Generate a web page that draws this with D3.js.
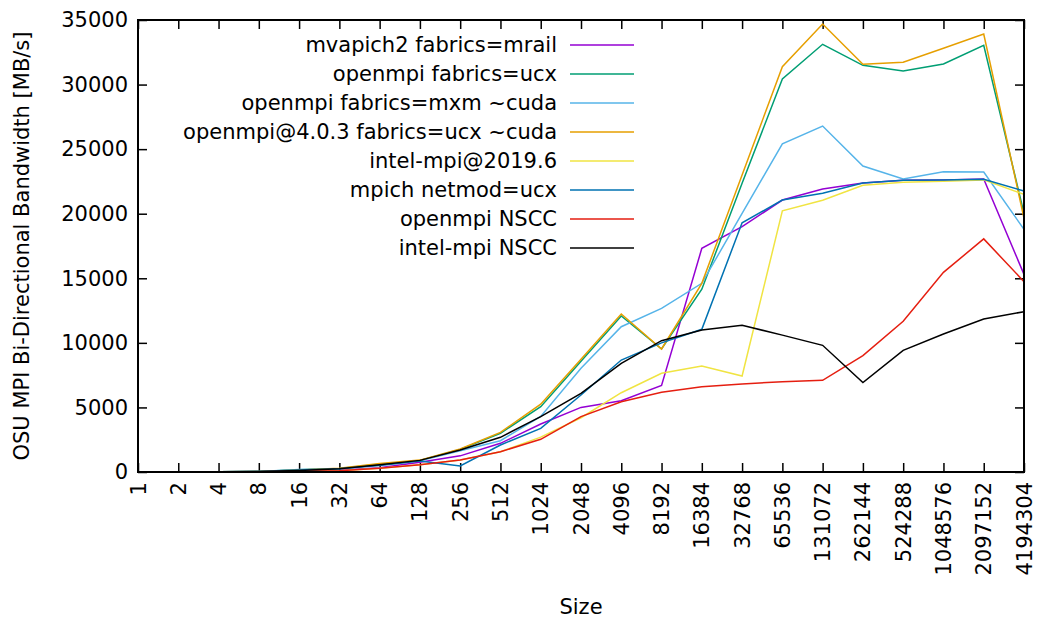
<!DOCTYPE html>
<html>
<head>
<meta charset="utf-8">
<script src="https://cdn.jsdelivr.net/npm/d3@7"></script>
<style>
  body { margin: 0; background: #fff; }
  svg text { font-family: "DejaVu Sans", Verdana, sans-serif; fill: #000; }
</style>
</head>
<body>
<div id="chart"></div>
<script>
// message sizes (x categories)
const sizes = ["1", "2", "4", "8", "16", "32", "64", "128", "256", "512", "1024", "2048", "4096",
    "8192", "16384", "32768", "65536", "131072", "262144", "524288", "1048576", "2097152", "4194304"];

const yTicks = [0, 5000, 10000, 15000, 20000, 25000, 30000, 35000];

const seriesNames = ["mvapich2 fabrics=mrail", "openmpi fabrics=ucx", "openmpi fabrics=mxm ~cuda",
    "openmpi@4.0.3 fabrics=ucx ~cuda", "intel-mpi@2019.6", "mpich netmod=ucx", "openmpi NSCC", "intel-mpi NSCC"];

const mvapich2 = [3, 6, 12, 25, 60, 130, 330, 750, 1250, 2220, 3715, 5000, 5520, 6710, 17320, 19000,
    21060, 21915, 22380, 22585, 22620, 22690, 15300];
const openmpiUcx = [5, 10, 20, 45, 180, 280, 600, 900, 1750, 3000, 5060, 8570, 12080, 9525, 14150, 22355,
    30430, 33120, 31490, 31050, 31595, 33040, 20030];
const openmpiMxm = [5, 10, 20, 40, 200, 260, 550, 880, 1650, 2425, 4300, 8030, 11250, 12675, 14610, 20030,
    25410, 26790, 23695, 22690, 23255, 23230, 18790];
const openmpi403 = [5, 10, 20, 45, 150, 300, 650, 920, 1780, 3070, 5250, 8725, 12235, 9525, 14610, 23000,
    31385, 34690, 31570, 31725, 32810, 33915, 19650];
const intelMpi2019 = [2, 4, 8, 20, 50, 100, 285, 560, 930, 1575, 2700, 4200, 6140, 7640, 8210, 7430,
    20220, 21040, 22200, 22430, 22520, 22620, 21500];
const mpichUcx = [4, 8, 16, 35, 150, 250, 500, 850, 465, 2090, 3380, 5960, 8670, 10000, 11050, 19300,
    21060, 21580, 22380, 22585, 22620, 22660, 21760];
const openmpiNscc = [2, 4, 8, 20, 50, 100, 285, 560, 930, 1575, 2530, 4285, 5445, 6170, 6610, 6815,
    6990, 7100, 9010, 11670, 15460, 18050, 14740];
const intelNscc = [4, 8, 16, 40, 120, 250, 560, 900, 1700, 2685, 4285, 6090, 8415, 10170, 11000, 11360,
    10600, 9810, 6920, 9420, 10685, 11850, 12415];

const seriesValues = [mvapich2, openmpiUcx, openmpiMxm, openmpi403, intelMpi2019, mpichUcx, openmpiNscc, intelNscc];
const colors = ["#9400d3", "#009e73", "#56b4e9", "#e69f00", "#f0e442", "#0072b2", "#e51e10", "#000000"];

const width = 1038, height = 619;
const margin = {top: 20, right: 14, bottom: 147, left: 138};

const svg = d3.select("#chart")
    .append("svg")
    .attr("width", width)
    .attr("height", height);

const x = d3.scalePoint()
    .domain(sizes)
    .range([margin.left, width - margin.right]);

const y = d3.scaleLinear()
    .domain([0, 35000])
    .range([height - margin.bottom, margin.top]);

const fontSize = 21;
const tickLen = 9;

// bottom axis, ticks pointing inward
const xAxis = svg.append("g")
    .attr("transform", `translate(0,${y(0)})`)
    .call(d3.axisBottom(x).tickSize(-tickLen).tickPadding(0));
xAxis.select(".domain").remove();
xAxis.selectAll("line").attr("stroke", "#000").attr("stroke-width", 1.5);
xAxis.selectAll("text")
    .attr("font-size", fontSize)
    .attr("text-anchor", "end")
    .attr("dy", null)
    .attr("y", 0)
    .attr("transform", "translate(7,10) rotate(-90)");

// top mirror ticks
const xTop = svg.append("g")
    .attr("transform", `translate(0,${y(35000)})`)
    .call(d3.axisTop(x).tickSize(-tickLen).tickFormat(""));
xTop.select(".domain").remove();
xTop.selectAll("line").attr("stroke", "#000").attr("stroke-width", 1.5);

// left axis
const yAxis = svg.append("g")
    .attr("transform", `translate(${margin.left},0)`)
    .call(d3.axisLeft(y).tickValues(yTicks).tickFormat(d3.format("d")).tickSize(-tickLen).tickPadding(10));
yAxis.select(".domain").remove();
yAxis.selectAll("line").attr("stroke", "#000").attr("stroke-width", 1.5);
yAxis.selectAll("text").attr("font-size", fontSize);

// right mirror ticks
const yRight = svg.append("g")
    .attr("transform", `translate(${width - margin.right},0)`)
    .call(d3.axisRight(y).tickValues(yTicks).tickSize(-tickLen).tickFormat(""));
yRight.select(".domain").remove();
yRight.selectAll("line").attr("stroke", "#000").attr("stroke-width", 1.5);

// lines
const line = d3.line()
    .x((d, i) => x(sizes[i]))
    .y(d => y(d));

seriesValues.forEach((vals, k) => {
    svg.append("path")
        .datum(vals)
        .attr("fill", "none")
        .attr("stroke", colors[k])
        .attr("stroke-width", 1.5)
        .attr("d", line);
});

// border
svg.append("rect")
    .attr("x", margin.left)
    .attr("y", margin.top)
    .attr("width", width - margin.right - margin.left)
    .attr("height", y(0) - margin.top)
    .attr("fill", "none")
    .attr("stroke", "#000")
    .attr("stroke-width", 2);

// legend
const legend = svg.append("g");
seriesNames.forEach((name, k) => {
    const ly = 45 + k * 29;
    legend.append("text")
        .attr("x", 557)
        .attr("y", ly)
        .attr("dy", ".35em")
        .attr("text-anchor", "end")
        .attr("font-size", fontSize)
        .text(name);
    legend.append("line")
        .attr("x1", 570).attr("x2", 634)
        .attr("y1", ly).attr("y2", ly)
        .attr("stroke", colors[k])
        .attr("stroke-width", 1.5);
});

// axis titles
svg.append("text")
    .attr("transform", `translate(29,${(y(0) + margin.top) / 2}) rotate(-90)`)
    .attr("text-anchor", "middle")
    .attr("font-size", fontSize)
    .text("OSU MPI Bi-Directional Bandwidth [MB/s]");

svg.append("text")
    .attr("x", (margin.left + width - margin.right) / 2)
    .attr("y", 614)
    .attr("text-anchor", "middle")
    .attr("font-size", fontSize)
    .text("Size");
</script>
</body>
</html>
